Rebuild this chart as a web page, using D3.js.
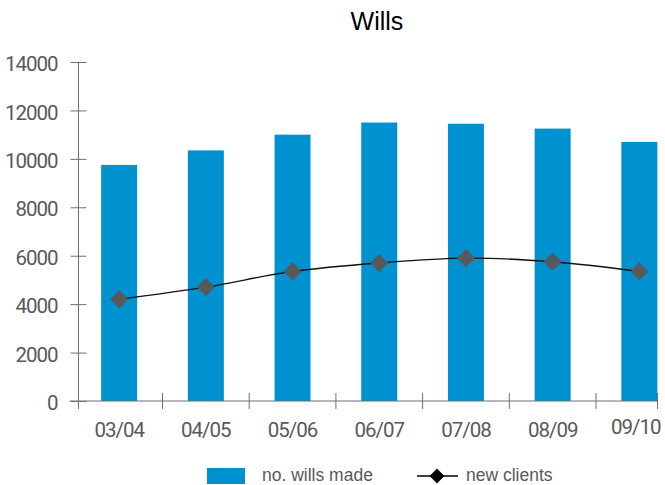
<!DOCTYPE html>
<html>
<head>
<meta charset="utf-8">
<script src="https://cdn.jsdelivr.net/npm/d3@7"></script>
<style>
  html, body { margin: 0; padding: 0; background: #fff; }
  svg { display: block; }
</style>
</head>
<body>
<svg id="chart" width="665" height="485"></svg>
<script>
// Financial years and the two series plotted for each
const years = ["03/04", "04/05", "05/06", "06/07", "07/08", "08/09", "09/10"];
const willsMade = [9750, 10350, 11000, 11500, 11450, 11250, 10700];
const newClients = [4200, 4700, 5350, 5700, 5900, 5750, 5350];
const yTicks = [0, 2000, 4000, 6000, 8000, 10000, 12000, 14000];

const svg = d3.select("#chart");
const axisColor = "#6d6e71";
const textColor = "#58595b";
const barColor = "#0091d0";
const markerColor = "#58595b";

const plotLeft = 78.5, plotBottom = 401, plotTop = 62;
const bandStart = 75.8, band = 86.7, plotRight = 657.5;

const x = d3.scaleBand()
  .domain(years)
  .range([bandStart, bandStart + band * years.length])
  .paddingInner(0.585)
  .paddingOuter(0.2925);

const y = d3.scaleLinear().domain([0, 14000]).range([plotBottom, plotTop]);

// Title
svg.append("text")
  .attr("x", 377).attr("y", 30)
  .attr("text-anchor", "middle")
  .attr("font-family", "Liberation Sans, Arial, sans-serif")
  .attr("font-size", 25)
  .attr("fill", "#000")
  .text("Wills");

// Bars
svg.append("g").selectAll("rect")
  .data(years)
  .join("rect")
  .attr("x", d => x(d))
  .attr("width", x.bandwidth())
  .attr("y", (d, i) => y(willsMade[i]))
  .attr("height", (d, i) => y(0) - y(willsMade[i]))
  .attr("fill", barColor);

// Y axis
const yAxis = svg.append("g")
  .attr("transform", `translate(${plotLeft},0)`)
  .call(d3.axisLeft(y).tickValues(yTicks).tickSize(8).tickFormat(d3.format("d")));
yAxis.select(".domain").remove();
yAxis.append("line")
  .attr("x1", 0).attr("x2", 0).attr("y1", plotTop).attr("y2", plotBottom + 8)
  .attr("stroke", axisColor);
yAxis.selectAll(".tick line").attr("x1", -8).attr("x2", 8).attr("stroke", axisColor);
yAxis.selectAll(".tick text")
  .attr("font-family", "Roboto, sans-serif")
  .attr("font-size", 20.5)
  .attr("letter-spacing", "-1")
  .attr("fill", textColor)
  .attr("x", -21)
  .attr("dy", "0.42em");

// X axis: ticks sit on the category boundaries, the axis ends at the last bar
const bounds = d3.range(1, years.length).map(i => bandStart + band * i).concat([plotRight]);
const xg = svg.append("g");
xg.append("line")
  .attr("x1", plotLeft - 9).attr("x2", plotRight)
  .attr("y1", plotBottom).attr("y2", plotBottom)
  .attr("stroke", axisColor);
xg.selectAll("line.tk")
  .data(bounds)
  .join("line")
  .attr("class", "tk")
  .attr("x1", d => d).attr("x2", d => d)
  .attr("y1", plotBottom - 8).attr("y2", plotBottom + 8)
  .attr("stroke", axisColor);
const xLabels = xg.selectAll("text")
  .data(years)
  .join("text")
  .attr("y", 437)
  .attr("text-anchor", "middle")
  .attr("font-family", "Roboto, sans-serif")
  .attr("font-size", 20.5)
  .attr("letter-spacing", "-1")
  .attr("fill", textColor)
  .text(d => d)
  .attr("x", d => x(d) + x.bandwidth() / 2);
// keep the last label inside the canvas
xLabels.each(function () {
  const bb = this.getBBox();
  const over = bb.x + bb.width - 661;
  if (over > 0) {
    d3.select(this)
      .attr("x", +this.getAttribute("x") - over)
      .attr("y", 434);
  }
});

// New clients line
const cx = d => x(d) + x.bandwidth() / 2;
const line = d3.line()
  .x((d, i) => cx(years[i]))
  .y(d => y(d))
  .curve(d3.curveCatmullRom.alpha(0.5));
svg.append("path")
  .datum(newClients)
  .attr("d", line)
  .attr("fill", "none")
  .attr("stroke", "#111")
  .attr("stroke-width", 1.3);

const diamond = d3.symbol().type(d3.symbolSquare).size(165);
svg.append("g").selectAll("path")
  .data(newClients)
  .join("path")
  .attr("d", diamond)
  .attr("transform", (d, i) => `translate(${cx(years[i])},${y(d)}) rotate(45)`)
  .attr("fill", markerColor);

// Legend
const lg = svg.append("g");
lg.append("rect")
  .attr("x", 207).attr("y", 468).attr("width", 38).attr("height", 16)
  .attr("fill", barColor);
lg.append("text")
  .attr("x", 262).attr("y", 481)
  .attr("font-family", "Liberation Sans, Arial, sans-serif")
  .attr("font-size", 17.5)
  .attr("fill", textColor)
  .text("no. wills made");
lg.append("line")
  .attr("x1", 417).attr("x2", 458).attr("y1", 476).attr("y2", 476)
  .attr("stroke", "#000").attr("stroke-width", 1.3);
lg.append("path")
  .attr("d", d3.symbol().type(d3.symbolSquare).size(110))
  .attr("transform", "translate(437,476) rotate(45)")
  .attr("fill", "#000");
lg.append("text")
  .attr("x", 466).attr("y", 481)
  .attr("font-family", "Liberation Sans, Arial, sans-serif")
  .attr("font-size", 17.5)
  .attr("fill", textColor)
  .text("new clients");
</script>
</body>
</html>
